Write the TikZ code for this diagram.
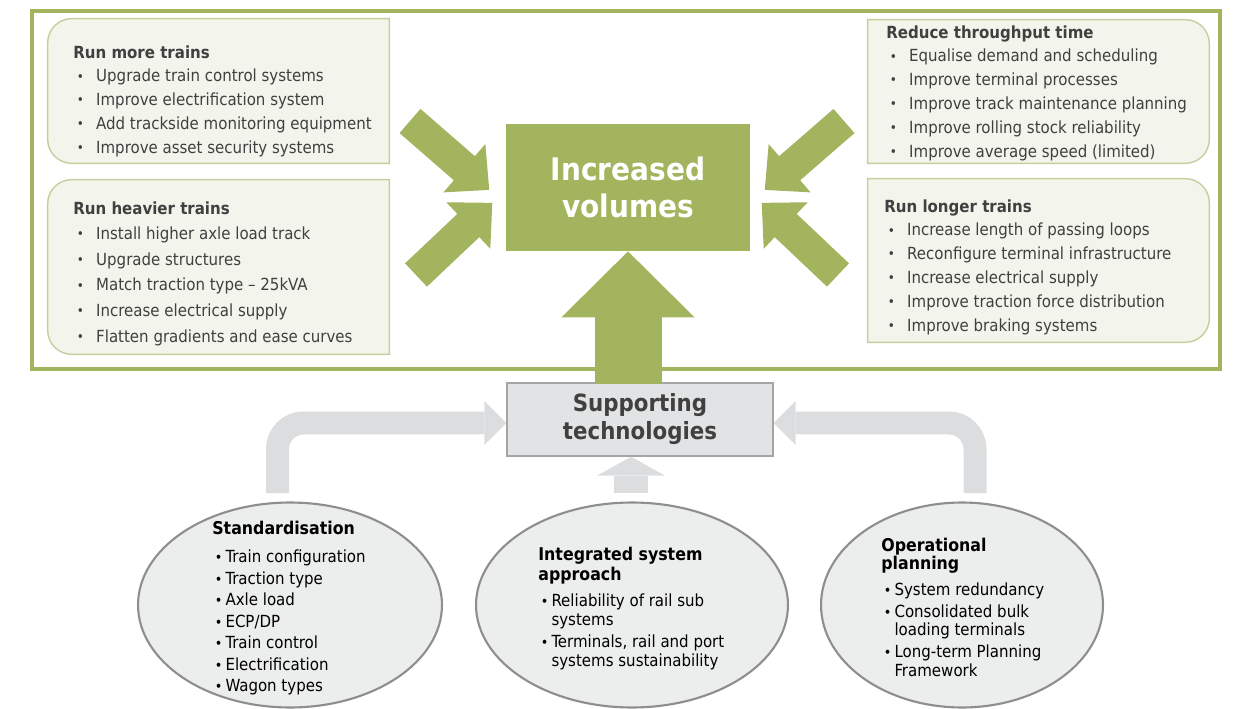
\documentclass[tikz,border=0pt]{standalone}
\usepackage{fontspec}
\setmainfont{DejaVu Sans Condensed}
\usetikzlibrary{calc,shapes.geometric}

\definecolor{volgreen}{HTML}{A3B45E}
\definecolor{leverfill}{HTML}{F3F5EC}
\definecolor{leveredge}{HTML}{C4D09C}
\definecolor{levertext}{HTML}{404040}
\definecolor{techgrey}{HTML}{DCDDDE}
\definecolor{techfill}{HTML}{E2E3E4}
\definecolor{techedge}{HTML}{A5A5A5}
\definecolor{ovalfill}{HTML}{ECEDED}
\definecolor{ovaledge}{HTML}{8E8E8E}

% bullet lines for the lever boxes and the ovals
\newcommand\lev[1]{\\\hspace*{2pt}\makebox[11pt][l]{\raisebox{.5pt}{\scalebox{.8}{\textbullet}}}#1}
\newcommand\ovl[2][0pt]{\\[#1]\hspace*{1.5pt}\makebox[6pt][l]{\scalebox{.85}{\textbullet}}#2}
\newcommand\ovc[1]{\\\hspace*{7.5pt}#1}
\newcommand\ovalhead[1]{{\fontsize{10}{11.5}\selectfont\bfseries #1}}

% lever box outlines, rounded on the outer side only
\newcommand\roundleft[1]{%
  \filldraw[leverbox] (#1.north east) -- ($(#1.north west)+(24,0)$)
    arc[start angle=90,end angle=180,radius=0.48cm] -- ($(#1.south west)+(0,24)$)
    arc[start angle=180,end angle=270,radius=0.48cm] -- (#1.south east) -- cycle;}
\newcommand\roundright[1]{%
  \filldraw[leverbox] (#1.north west) -- ($(#1.north east)+(-24,0)$)
    arc[start angle=90,end angle=0,radius=0.48cm] -- ($(#1.south east)+(0,24)$)
    arc[start angle=0,end angle=-90,radius=0.48cm] -- (#1.south west) -- cycle;}

% fat green arrow, tail centre at (#1,#2), turned by #3
\newcommand\pusharrow[3]{%
  \fill[volgreen, shift={(#1,#2)}, rotate=#3] (0,-16) -- (72,-16) -- (72,-32) -- (105,0)
    -- (72,32) -- (72,16) -- (0,16) -- cycle;}

\tikzset{
  lever/.style={rectangle, minimum width=6.82cm, inner sep=0},
  leverbox/.style={fill=leverfill, draw=leveredge, line width=0.8pt},
  levertxt/.style={anchor=north west, align=left, inner sep=0, text=levertext,
    font=\fontsize{9.5}{13.6}\selectfont},
  oval/.style={ellipse, draw=ovaledge, fill=ovalfill, line width=1.2pt, inner sep=0,
    minimum height=4.1cm},
  ovaltxt/.style={anchor=north west, align=left, inner sep=0,
    font=\fontsize{9.5}{12.25}\selectfont},
  techflow/.style={draw=techgrey, line width=0.46cm, rounded corners=0.52cm},
}

\begin{document}
\begin{tikzpicture}[x=0.02cm, y=0.02cm]
\useasboundingbox (0,0) rectangle (1233,-709);

% frame round the volume levers
\draw[volgreen, line width=0.09cm] (32,-11) rectangle (1220,-369);

\node[lever, minimum height=2.88cm] (more) at (218.5,-91) {};
\node[lever, minimum height=3.48cm] (heavy) at (218.5,-267) {};
\node[lever, minimum height=2.86cm] (reduce) at (1038.5,-91.5) {};
\node[lever, minimum height=3.26cm] (longer) at (1038.5,-260.5) {};
\roundleft{more}
\roundleft{heavy}
\roundright{reduce}
\roundright{longer}

\node[levertxt] (moretxt) at (73,-45) {\textbf{Run more trains}\lev{Upgrade train control systems}\lev{Improve electrification system}\lev{Add trackside monitoring equipment}\lev{Improve asset security systems}};
\node[levertxt, font=\fontsize{9.5}{14.6}\selectfont] (heavytxt) at (73,-201) {\textbf{Run heavier trains}\lev{Install higher axle load track}\lev{Upgrade structures}\lev{Match traction type -- 25kVA}\lev{Increase electrical supply}\lev{Flatten gradients and ease curves}};
\node[levertxt] (reducetxt) at (886,-25) {\textbf{Reduce throughput time}\lev{Equalise demand and scheduling}\lev{Improve terminal processes}\lev{Improve track maintenance planning}\lev{Improve rolling stock reliability}\lev{Improve average speed (limited)}};
\node[levertxt] (longertxt) at (884,-199) {\textbf{Run longer trains}\lev{Increase length of passing loops}\lev{Reconfigure terminal infrastructure}\lev{Increase electrical supply}\lev{Improve traction force distribution}\lev{Improve braking systems}};

\node[fill=volgreen, minimum width=4.88cm, minimum height=2.54cm, inner sep=0, align=center,
  text=white, font=\fontsize{17.7}{21}\selectfont\bfseries] (vol) at (628,-187.5) {Increased\\volumes};

\pusharrow{410}{-121}{-41}
\pusharrow{844}{-121}{-139}
\pusharrow{416}{-275}{43.4}
\pusharrow{838}{-275}{136.6}

\node[fill=techfill, draw=techedge, line width=0.8pt, minimum width=5.32cm, minimum height=1.46cm,
  inner sep=0, align=center, text=levertext, font=\fontsize{13.5}{15.9}\selectfont\bfseries]
  (sup) at (640,-419.5) {Supporting\\technologies};

% green push up into the volumes box
\draw[volgreen, line width=1.34cm] ($(vol.south |- sup.north)+(0,-2)$) -- ($(vol.south)+(0,-65)$);
\fill[volgreen] (vol.south) -- ++(-66.5,-66) -- ++(133,0) -- cycle;

\node[oval, minimum width=6.08cm] (std) at (290,-605) {};
\node[oval, minimum width=6.24cm] (int) at (632,-605) {};
\node[oval, minimum width=5.64cm] (op) at (962,-605) {};

\node[ovaltxt] (stdtxt) at (212,-521) {\ovalhead{Standardisation}\ovl[3.6pt]{Train configuration}\ovl{Traction type}\ovl{Axle load}\ovl{ECP/DP}\ovl{Train control}\ovl{Electrification}\ovl{Wagon types}};
\node[ovaltxt, font=\fontsize{9.5}{10.8}\selectfont] (inttxt) at (538,-547) {\ovalhead{Integrated system}\\[0.5pt]\ovalhead{approach}\ovl[3.9pt]{Reliability of rail sub}\ovc{systems}\ovl[1.7pt]{Terminals, rail and port}\ovc{systems sustainability}};
\node[ovaltxt, font=\fontsize{9.5}{10.5}\selectfont] (optxt) at (881,-538) {\ovalhead{Operational}\\[-0.3pt]\ovalhead{planning}\ovl[4.2pt]{System redundancy}\ovl[2pt]{Consolidated bulk}\ovc{loading terminals}\ovl[2pt]{Long-term Planning}\ovc{Framework}};

% grey feeds into the supporting technologies
\coordinate (stdtop) at (277.5,-493);
\coordinate (inttop) at (631,-493);
\coordinate (optop) at (975,-493);
\coordinate (supl) at ($(sup.west)+(0,-3.5)$);
\coordinate (supr) at ($(sup.east)+(0,-3.5)$);
\draw[techflow] (stdtop) |- ($(supl)+(-22,0)$);
\fill[techgrey] (supl) -- ++(-22,22) -- ++(0,-44) -- cycle;
\draw[techflow] (optop) |- ($(supr)+(22,0)$);
\fill[techgrey] (supr) -- ++(22,22) -- ++(0,-44) -- cycle;
\draw[techgrey, line width=0.68cm] (inttop) -- ($(sup.south -| inttop)+(0,-19)$);
\fill[techgrey] (sup.south -| inttop) -- ++(-34,-19) -- ++(68,0) -- cycle;

\end{tikzpicture}
\end{document}
